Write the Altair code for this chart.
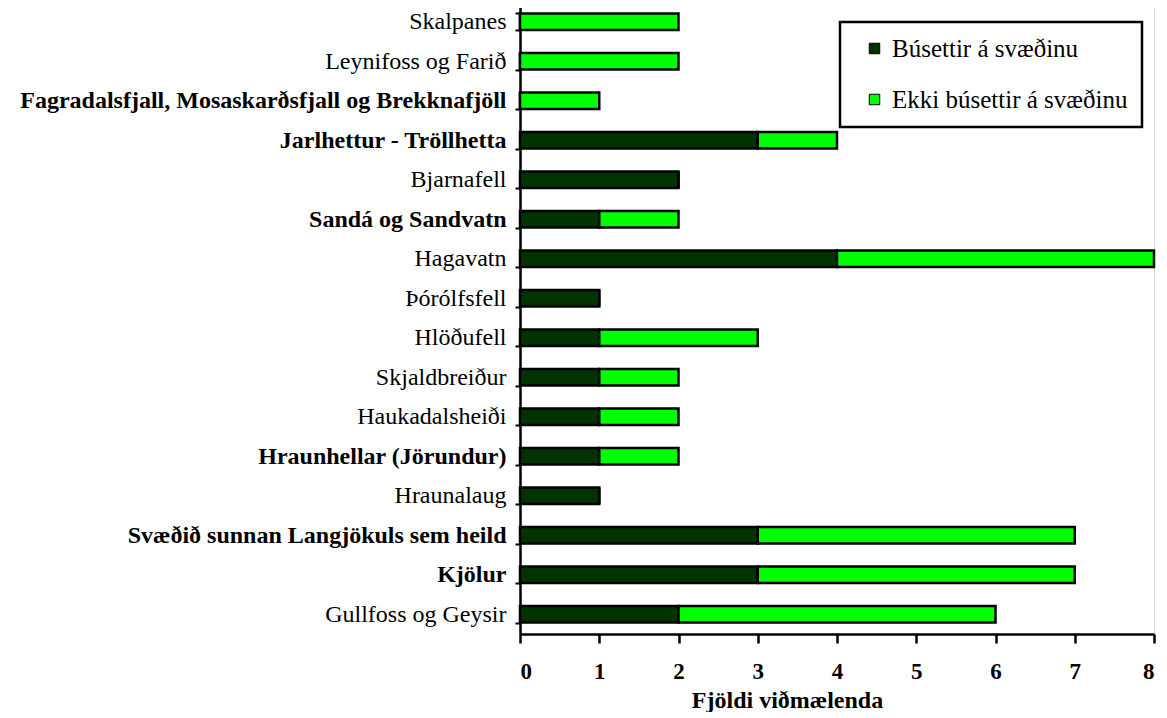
import altair as alt
import pandas as pd
import json

categories = [
    "Skalpanes",
    "Leynifoss og Farið",
    "Fagradalsfjall, Mosaskarðsfjall og Brekknafjöll",
    "Jarlhettur - Tröllhetta",
    "Bjarnafell",
    "Sandá og Sandvatn",
    "Hagavatn",
    "Þórólfsfell",
    "Hlöðufell",
    "Skjaldbreiður",
    "Haukadalsheiði",
    "Hraunhellar (Jörundur)",
    "Hraunalaug",
    "Svæðið sunnan Langjökuls sem heild",
    "Kjölur",
    "Gullfoss og Geysir",
]
bold_labels = [
    "Fagradalsfjall, Mosaskarðsfjall og Brekknafjöll",
    "Jarlhettur - Tröllhetta",
    "Sandá og Sandvatn",
    "Hraunhellar (Jörundur)",
    "Svæðið sunnan Langjökuls sem heild",
    "Kjölur",
]
busettir = [0, 0, 0, 3, 2, 1, 4, 1, 1, 1, 1, 1, 1, 3, 3, 2]
ekki_busettir = [2, 2, 1, 1, 0, 1, 4, 0, 2, 1, 1, 1, 0, 4, 4, 4]
series = ["Búsettir á svæðinu", "Ekki búsettir á svæðinu"]
colors = ["#003300", "#00FF00"]

rows = []
for c, a, b in zip(categories, busettir, ekki_busettir):
    rows.append({"cat": c, "series": series[0], "val": a, "ord": 0})
    rows.append({"cat": c, "series": series[1], "val": b, "ord": 1})
df = pd.DataFrame(rows)

FONT = "Liberation Serif"
bold_test = "indexof(" + json.dumps(bold_labels, ensure_ascii=False) + ", datum.value) >= 0"

chart = alt.Chart(df).mark_bar(stroke="black", strokeWidth=2.5).encode(
    y=alt.Y("cat:N", sort=categories, title=None,
            scale=alt.Scale(paddingInner=0.58, paddingOuter=0.29),
            axis=alt.Axis(labelFont=FONT, labelFontSize=24,
                          labelFontWeight={"condition": {"test": bold_test, "value": "bold"},
                                           "value": "normal"},
                          labelColor="black", tickBand="extent", tickSize=5,
                          tickColor="black", tickWidth=2, domainColor="black",
                          domainWidth=2.5, labelPadding=9, labelLimit=700)),
    x=alt.X("val:Q", stack="zero", title="Fjöldi viðmælenda",
            scale=alt.Scale(domain=[0, 8], nice=False),
            axis=alt.Axis(values=list(range(9)), labelFont=FONT, labelFontSize=23,
                          labelFontWeight="bold", labelColor="black", tickSize=9,
                          tickColor="black", tickWidth=2.5, domainColor="black",
                          domainWidth=2.5, labelPadding=17, grid=False,
                          titleFont=FONT, titleFontSize=24, titleFontWeight="bold",
                          titleColor="black", titlePadding=5, titleX=267,
                          titleAlign="center")),
    color=alt.Color("series:N", scale=alt.Scale(domain=series, range=colors),
                    legend=alt.Legend(title=None, orient="none", legendX=320, legendY=20,
                                      labelFont=FONT, labelFontSize=25, labelColor="black",
                                      symbolType="square", symbolSize=110,
                                      symbolStrokeColor="black", symbolStrokeWidth=1,
                                      symbolOffset=8, rowPadding=25, padding=14,
                                      strokeColor="black", fillColor="white",
                                      labelOffset=5, labelLimit=400)),
    order=alt.Order("ord:Q"),
).properties(width=634, height=632).configure_view(stroke=None).configure(
    padding={"left": 11, "top": -18, "right": 0, "bottom": 0}
).configure_legend(strokeWidth=2.5)

chart.save("out.html", embed_options={"renderer": "svg", "actions": False})
